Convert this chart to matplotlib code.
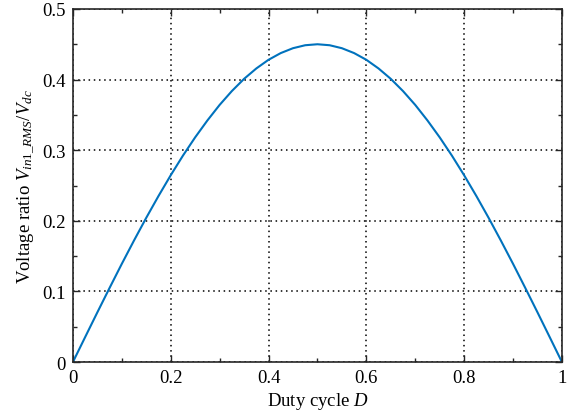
import matplotlib
matplotlib.use("Agg")
import matplotlib.pyplot as plt
from matplotlib.ticker import MultipleLocator

duty = [0.0, 0.025, 0.05, 0.075, 0.1, 0.125, 0.15, 0.175, 0.2, 0.225, 0.25,
        0.275, 0.3, 0.325, 0.35, 0.375, 0.4, 0.425, 0.45, 0.475, 0.5,
        0.525, 0.55, 0.575, 0.6, 0.625, 0.65, 0.675, 0.7, 0.725, 0.75,
        0.775, 0.8, 0.825, 0.85, 0.875, 0.9, 0.925, 0.95, 0.975, 1.0]
ratio = [0.0, 0.0353, 0.0704, 0.1050, 0.1391, 0.1722, 0.2043, 0.2351, 0.2645, 0.2923, 0.3182,
         0.3421, 0.3641, 0.3837, 0.4010, 0.4157, 0.4280, 0.4375, 0.4444, 0.4486, 0.4500,
         0.4486, 0.4444, 0.4375, 0.4280, 0.4157, 0.4010, 0.3837, 0.3641, 0.3421, 0.3182,
         0.2923, 0.2645, 0.2351, 0.2043, 0.1722, 0.1391, 0.1050, 0.0704, 0.0353, 0.0]
xticks = [0, 0.2, 0.4, 0.6, 0.8, 1]
xticklabels = ["0", "0.2", "0.4", "0.6", "0.8", "1"]
yticks = [0, 0.1, 0.2, 0.3, 0.4, 0.5]
yticklabels = ["0", "0.1", "0.2", "0.3", "0.4", "0.5"]

plt.rcParams['font.family'] = ['Liberation Serif', 'DejaVu Serif']
plt.rcParams['mathtext.fontset'] = 'custom'
plt.rcParams['mathtext.rm'] = 'Liberation Serif'
plt.rcParams['mathtext.it'] = 'Liberation Serif:italic'

fig = plt.figure(figsize=(5.74, 4.14), dpi=100)
ax = fig.add_axes([0.127, 0.123, 0.852, 0.853])
ax.plot(duty, ratio, color='#0072BD', linewidth=1.5)
ax.set_xlim(0, 1)
ax.set_ylim(0, 0.5)
ax.set_xticks(xticks)
ax.set_xticklabels(xticklabels)
ax.set_yticks(yticks)
ax.set_yticklabels(yticklabels)
ax.xaxis.set_minor_locator(MultipleLocator(0.1))
ax.yaxis.set_minor_locator(MultipleLocator(0.05))
ax.tick_params(which='both', direction='in', top=True, right=True, labelsize=13.5, width=1, color='#262626')
ax.tick_params(which='major', length=5, pad=5)
ax.tick_params(which='minor', length=3)
ax.grid(True, which='major', linestyle=(0, (1, 2.4)), color='black', linewidth=1.1)
for s in ax.spines.values():
    s.set_linewidth(1.2)
    s.set_color('#262626')
ax.set_xlabel('Duty cycle $D$', fontsize=13.5, labelpad=3)
ax.set_ylabel('Voltage ratio $V_{in1\\_RMS}/V_{dc}$', fontsize=13.5, labelpad=4)
fig.savefig('out.png', dpi=100)
